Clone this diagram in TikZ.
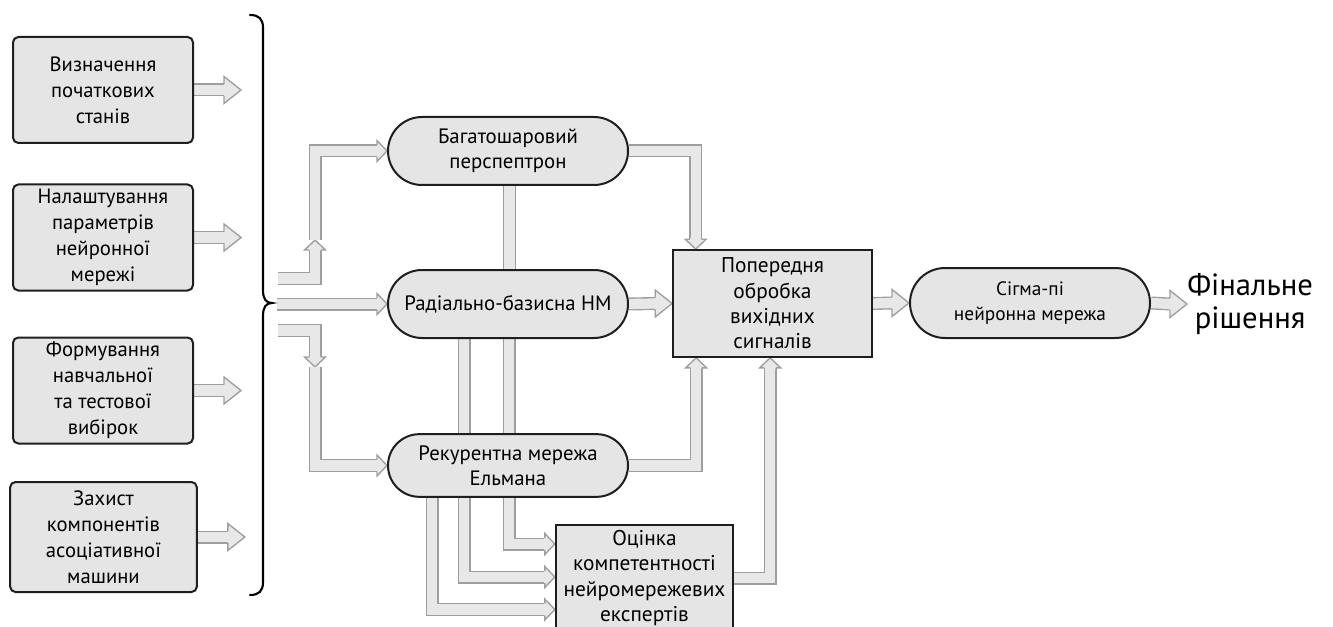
\documentclass[tikz,border=0pt]{standalone}
\usepackage{fontspec}
\setmainfont{PT Sans}
\usetikzlibrary{calc}

\definecolor{boxfill}{HTML}{E5E5E5}
\definecolor{boxline}{HTML}{1E1E1E}
\definecolor{pipefill}{HTML}{E8E8E8}
\definecolor{pipeline}{HTML}{9E9E9E}

\pgfdeclarelayer{pipes}
\pgfsetlayers{pipes,main}

\tikzset{
  every node/.style={font=\fontsize{15.5}{19.5}\selectfont, align=center, inner sep=0pt},
  stagebox/.style={draw=boxline, line width=1.5pt, fill=boxfill, rounded corners=4pt,
    minimum width=135pt, minimum height=79.5pt},
  netnode/.style={draw=boxline, line width=1.5pt, fill=boxfill, rounded corners=25.5pt,
    minimum width=180pt, minimum height=51pt, font=\fontsize{15.6}{19}\selectfont},
  procbox/.style={draw=boxline, line width=1.5pt, fill=boxfill,
    minimum width=149pt, minimum height=80pt, font=\fontsize{16}{19}\selectfont},
  shaftout/.style={draw=pipeline, line width=9.75pt, line join=miter, line cap=butt},
  shaftin/.style={draw=pipefill, line width=7.7pt, line join=miter, line cap=butt},
}

% head size of the hollow block arrows (in px units of the picture)
\def\hl{10}\def\hw{10.5}
\newcommand\bigheads{\def\hl{17}\def\hw{13.5}}

% arrow head: tip point, direction angle
\newcommand\flowhead[2]{%
  \fill[pipefill, shift={#1}, rotate=#2] (0,0) -- (-\hl,\hw) -- (-\hl,5.2) -- (-\hl-1.5,5.2)
    -- (-\hl-1.5,-5.2) -- (-\hl,-5.2) -- (-\hl,-\hw) -- cycle;
  \draw[pipeline, line width=1.0pt, line join=miter, shift={#1}, rotate=#2]
    (-\hl,5.8) -- (-\hl,\hw) -- (0,0) -- (-\hl,-\hw) -- (-\hl,-5.8);
}
% hollow arrow: path up to the head base, tip point, direction angle
\newcommand\flowarrow[3]{\draw[shaftout] #1; \draw[shaftin] #1; \flowhead{#2}{#3}}
% hollow bar without head
\newcommand\flowbar[1]{\draw[shaftout] #1; \draw[shaftin] #1;}

\begin{document}
\begin{tikzpicture}[x=0.75pt, y=-0.75pt]
\clip (0,0) rectangle (1333,627);

% input stages
\node[stagebox] (ini) at (103,90) {Визначення\\початкових\\станів};
\node[stagebox] (par) at (103,237.5) {Налаштування\\параметрів\\нейронної\\мережі};
\node[stagebox] (smp) at (103,390.5) {Формування\\навчальної\\та тестової\\вибірок};
\node[stagebox, minimum width=140pt, minimum height=82.5pt] (prt) at (103.5,537)
  {Захист\\компонентів\\асоціативної\\машини};

% networks and processing blocks
\node[netnode] (mlp) at (508,151) {Багатошаровий\\перспептрон};
\node[netnode] (rbf) at (508,304) {Радіально-базисна НМ};
\node[netnode, minimum height=47pt, rounded corners=23.5pt] (elm) at (508,465.5)
  {Рекурентна мережа\\Ельмана};
\node[procbox] (pre) at (772.5,303.5) {Попередня\\обробка\\вихідних\\сигналів};
\node[procbox, minimum width=133pt, minimum height=79.5pt] (cmp) at (644.5,578)
  {Оцінка\\компетентності\\нейромережевих\\експертів};
\node[netnode, minimum height=52.5pt, rounded corners=26.25pt, font=\fontsize{14.5}{18.5}\selectfont]
  (sgp) at (1030,303) {Сігма-пі\\нейронна мережа};
\node[anchor=west, font=\fontsize{23}{25}\selectfont] (fin) at (1187,304) {Фінальне\\рішення};

% brace gathering the input stages
\draw[line width=1.6pt, line cap=round] (250,15) .. controls (259,15) and (263,19) .. (263,28)
  -- (263,290) .. controls (263,299) and (266,303) .. (272,303)
  .. controls (266,303) and (263,307) .. (263,316)
  -- (263,582) .. controls (263,591) and (259,595) .. (250,595);

\coordinate (up) at (278,278.5);
\coordinate (mid) at (277,304);
\coordinate (dn) at (278,330.5);
\coordinate (upknee) at (315,240);
\coordinate (dnknee) at (315,367);

\begin{pgfonlayer}{pipes}
  \begin{scope}
    \bigheads
    \foreach \s in {ini,par,smp,prt}
      \flowarrow{(\s.east) -- ($(\s.east)+(30,0)$)}{($(\s.east)+(47,0)$)}{0};
    \flowarrow{(rbf.east) -- ($(pre.west)+(-17,0)$)}{(pre.west)}{0}
    \flowarrow{(pre.east) -- ($(sgp.west)+(-17,0)$)}{(sgp.west)}{0}
    \flowarrow{(sgp.east) -- ($(fin.west)+(-17,0)$)}{(fin.west)}{0}
  \end{scope}

  % from the brace to the three networks
  \flowarrow{(up) -| ($(upknee)+(0,10)$)}{(upknee)}{90}
  \flowarrow{(upknee) |- ($(mlp.west)+(-10,0)$)}{(mlp.west)}{0}
  \flowarrow{(mid) -- ($(rbf.west)+(-10,0)$)}{(rbf.west)}{0}
  \flowarrow{(dn) -| ($(dnknee)+(0,-10)$)}{(dnknee)}{-90}
  \flowarrow{(dnknee) |- ($(elm.west)+(-10,0)$)}{(elm.west)}{0}

  % links between the networks
  \flowbar{($(mlp.south)+(1.5,0)$) -- ($(rbf.north)+(1.5,0)$)}
  \flowbar{($(rbf.south)+(-44,0)$) -- ($(elm.north)+(-44,0)$)}
  \flowbar{($(rbf.south)+(1,0)$) -- ($(elm.north)+(1,0)$)}

  % outputs into the preprocessing block
  \flowarrow{(mlp.east) -| ($(pre.north west)+(23.5,-10)$)}{($(pre.north west)+(23.5,0)$)}{-90}
  \flowarrow{(elm.east) -| ($(pre.south west)+(24,10)$)}{($(pre.south west)+(24,0)$)}{90}
  \flowarrow{(cmp.east) -| ($(pre.south west)+(98,10)$)}{($(pre.south west)+(98,0)$)}{90}

  % Elman network into the competence estimation
  \flowarrow{($(elm.south)+(1,0)$) |- ($(cmp.west)+(-11,-34)$)}{($(cmp.west)+(0,-34)$)}{0}
  \flowarrow{($(elm.south)+(-44,0)$) |- ($(cmp.west)+(-11,-1)$)}{($(cmp.west)+(0,-1)$)}{0}
  \flowarrow{($(elm.south)+(-76,0)$) |- ($(cmp.west)+(-11,31.5)$)}{($(cmp.west)+(0,31.5)$)}{0}
\end{pgfonlayer}
\end{tikzpicture}
\end{document}
